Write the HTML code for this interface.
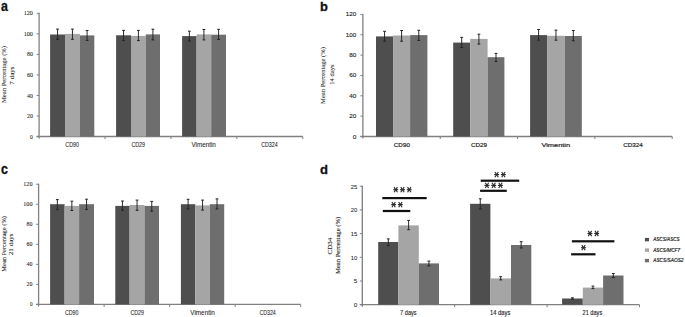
<!DOCTYPE html><html><head><meta charset="utf-8"><style>html,body{margin:0;padding:0;background:#fff;}svg{display:block;}</style></head><body><svg width="685" height="317" viewBox="0 0 685 317">
<rect width="685" height="317" fill="#fff"/>
<text x="1.00" y="10.80" font-family="'Liberation Sans', sans-serif" font-size="14.0" font-weight="bold" font-style="normal" fill="#111" text-anchor="start" textLength="6.90" lengthAdjust="spacingAndGlyphs" stroke="#111" stroke-width="0.3">a</text>
<line x1="39.10" y1="12.80" x2="39.10" y2="138.50" stroke="#808080" stroke-width="1.3"/>
<line x1="36.60" y1="136.50" x2="302.80" y2="136.50" stroke="#808080" stroke-width="1.3"/>
<line x1="36.60" y1="13.30" x2="39.10" y2="13.30" stroke="#808080" stroke-width="1.0"/>
<text x="32.90" y="15.40" font-family="'Liberation Serif', serif" font-size="7.0" font-weight="normal" font-style="normal" fill="#222" text-anchor="end" textLength="9.20" lengthAdjust="spacingAndGlyphs" stroke="#222" stroke-width="0.08">120</text>
<line x1="36.60" y1="33.83" x2="39.10" y2="33.83" stroke="#808080" stroke-width="1.0"/>
<text x="32.90" y="35.93" font-family="'Liberation Serif', serif" font-size="7.0" font-weight="normal" font-style="normal" fill="#222" text-anchor="end" textLength="9.20" lengthAdjust="spacingAndGlyphs" stroke="#222" stroke-width="0.08">100</text>
<line x1="36.60" y1="54.37" x2="39.10" y2="54.37" stroke="#808080" stroke-width="1.0"/>
<text x="32.90" y="56.47" font-family="'Liberation Serif', serif" font-size="7.0" font-weight="normal" font-style="normal" fill="#222" text-anchor="end" textLength="5.90" lengthAdjust="spacingAndGlyphs" stroke="#222" stroke-width="0.08">80</text>
<line x1="36.60" y1="74.90" x2="39.10" y2="74.90" stroke="#808080" stroke-width="1.0"/>
<text x="32.90" y="77.00" font-family="'Liberation Serif', serif" font-size="7.0" font-weight="normal" font-style="normal" fill="#222" text-anchor="end" textLength="5.90" lengthAdjust="spacingAndGlyphs" stroke="#222" stroke-width="0.08">60</text>
<line x1="36.60" y1="95.43" x2="39.10" y2="95.43" stroke="#808080" stroke-width="1.0"/>
<text x="32.90" y="97.53" font-family="'Liberation Serif', serif" font-size="7.0" font-weight="normal" font-style="normal" fill="#222" text-anchor="end" textLength="5.90" lengthAdjust="spacingAndGlyphs" stroke="#222" stroke-width="0.08">40</text>
<line x1="36.60" y1="115.97" x2="39.10" y2="115.97" stroke="#808080" stroke-width="1.0"/>
<text x="32.90" y="118.07" font-family="'Liberation Serif', serif" font-size="7.0" font-weight="normal" font-style="normal" fill="#222" text-anchor="end" textLength="5.90" lengthAdjust="spacingAndGlyphs" stroke="#222" stroke-width="0.08">20</text>
<line x1="36.60" y1="136.50" x2="39.10" y2="136.50" stroke="#808080" stroke-width="1.0"/>
<text x="32.90" y="138.60" font-family="'Liberation Serif', serif" font-size="7.0" font-weight="normal" font-style="normal" fill="#222" text-anchor="end" textLength="2.80" lengthAdjust="spacingAndGlyphs" stroke="#222" stroke-width="0.08">0</text>
<line x1="105.03" y1="136.50" x2="105.03" y2="139.00" stroke="#808080" stroke-width="1.0"/>
<line x1="170.95" y1="136.50" x2="170.95" y2="139.00" stroke="#808080" stroke-width="1.0"/>
<line x1="236.87" y1="136.50" x2="236.87" y2="139.00" stroke="#808080" stroke-width="1.0"/>
<line x1="302.80" y1="136.50" x2="302.80" y2="139.00" stroke="#808080" stroke-width="1.0"/>
<rect x="50.10" y="34.50" width="14.90" height="102.00" fill="#4e4e4e"/>
<rect x="65.00" y="33.90" width="14.90" height="102.60" fill="#a5a5a5"/>
<rect x="79.90" y="35.40" width="14.40" height="101.10" fill="#6e6e6e"/>
<line x1="57.55" y1="29.10" x2="57.55" y2="39.30" stroke="#222222" stroke-width="0.95"/>
<line x1="56.15" y1="29.10" x2="58.95" y2="29.10" stroke="#222222" stroke-width="1.0"/>
<line x1="56.15" y1="39.30" x2="58.95" y2="39.30" stroke="#222222" stroke-width="1.0"/>
<line x1="72.45" y1="29.10" x2="72.45" y2="39.30" stroke="#222222" stroke-width="0.95"/>
<line x1="71.05" y1="29.10" x2="73.85" y2="29.10" stroke="#222222" stroke-width="1.0"/>
<line x1="71.05" y1="39.30" x2="73.85" y2="39.30" stroke="#222222" stroke-width="1.0"/>
<line x1="87.10" y1="30.50" x2="87.10" y2="40.40" stroke="#222222" stroke-width="0.95"/>
<line x1="85.70" y1="30.50" x2="88.50" y2="30.50" stroke="#222222" stroke-width="1.0"/>
<line x1="85.70" y1="40.40" x2="88.50" y2="40.40" stroke="#222222" stroke-width="1.0"/>
<rect x="116.10" y="35.30" width="14.90" height="101.20" fill="#4e4e4e"/>
<rect x="131.00" y="35.90" width="14.80" height="100.60" fill="#a5a5a5"/>
<rect x="145.80" y="34.40" width="14.20" height="102.10" fill="#6e6e6e"/>
<line x1="123.55" y1="30.40" x2="123.55" y2="40.60" stroke="#222222" stroke-width="0.95"/>
<line x1="122.15" y1="30.40" x2="124.95" y2="30.40" stroke="#222222" stroke-width="1.0"/>
<line x1="122.15" y1="40.60" x2="124.95" y2="40.60" stroke="#222222" stroke-width="1.0"/>
<line x1="138.40" y1="30.40" x2="138.40" y2="40.60" stroke="#222222" stroke-width="0.95"/>
<line x1="137.00" y1="30.40" x2="139.80" y2="30.40" stroke="#222222" stroke-width="1.0"/>
<line x1="137.00" y1="40.60" x2="139.80" y2="40.60" stroke="#222222" stroke-width="1.0"/>
<line x1="152.90" y1="29.20" x2="152.90" y2="39.90" stroke="#222222" stroke-width="0.95"/>
<line x1="151.50" y1="29.20" x2="154.30" y2="29.20" stroke="#222222" stroke-width="1.0"/>
<line x1="151.50" y1="39.90" x2="154.30" y2="39.90" stroke="#222222" stroke-width="1.0"/>
<rect x="182.10" y="36.10" width="14.50" height="100.40" fill="#4e4e4e"/>
<rect x="196.60" y="34.40" width="14.60" height="102.10" fill="#a5a5a5"/>
<rect x="211.20" y="34.70" width="14.80" height="101.80" fill="#6e6e6e"/>
<line x1="189.35" y1="31.20" x2="189.35" y2="41.00" stroke="#222222" stroke-width="0.95"/>
<line x1="187.95" y1="31.20" x2="190.75" y2="31.20" stroke="#222222" stroke-width="1.0"/>
<line x1="187.95" y1="41.00" x2="190.75" y2="41.00" stroke="#222222" stroke-width="1.0"/>
<line x1="203.90" y1="29.50" x2="203.90" y2="39.90" stroke="#222222" stroke-width="0.95"/>
<line x1="202.50" y1="29.50" x2="205.30" y2="29.50" stroke="#222222" stroke-width="1.0"/>
<line x1="202.50" y1="39.90" x2="205.30" y2="39.90" stroke="#222222" stroke-width="1.0"/>
<line x1="218.60" y1="29.30" x2="218.60" y2="39.40" stroke="#222222" stroke-width="0.95"/>
<line x1="217.20" y1="29.30" x2="220.00" y2="29.30" stroke="#222222" stroke-width="1.0"/>
<line x1="217.20" y1="39.40" x2="220.00" y2="39.40" stroke="#222222" stroke-width="1.0"/>
<text x="72.10" y="146.60" font-family="'Liberation Sans', sans-serif" font-size="6.3" font-weight="normal" font-style="normal" fill="#222" text-anchor="middle" textLength="13.60" lengthAdjust="spacingAndGlyphs" stroke="#222" stroke-width="0.06">CD90</text>
<text x="138.20" y="146.60" font-family="'Liberation Sans', sans-serif" font-size="6.3" font-weight="normal" font-style="normal" fill="#222" text-anchor="middle" textLength="13.60" lengthAdjust="spacingAndGlyphs" stroke="#222" stroke-width="0.06">CD29</text>
<text x="203.65" y="146.60" font-family="'Liberation Sans', sans-serif" font-size="6.3" font-weight="normal" font-style="normal" fill="#222" text-anchor="middle" textLength="24.50" lengthAdjust="spacingAndGlyphs" stroke="#222" stroke-width="0.06">Vimentin</text>
<text x="269.45" y="146.60" font-family="'Liberation Sans', sans-serif" font-size="6.3" font-weight="normal" font-style="normal" fill="#222" text-anchor="middle" textLength="16.50" lengthAdjust="spacingAndGlyphs" stroke="#222" stroke-width="0.06">CD324</text>
<text x="6.00" y="74.50" font-family="'Liberation Serif', serif" font-size="6.9" font-weight="normal" font-style="normal" fill="#222" text-anchor="middle" textLength="57.00" lengthAdjust="spacingAndGlyphs" stroke="#222" stroke-width="0.07" transform="rotate(-90 6.00 74.50)">Mean Percentage (%)</text>
<text x="13.50" y="75.50" font-family="'Liberation Serif', serif" font-size="6.9" font-weight="normal" font-style="normal" fill="#222" text-anchor="middle" textLength="18.30" lengthAdjust="spacingAndGlyphs" stroke="#222" stroke-width="0.07" transform="rotate(-90 13.50 75.50)">7 days</text>
<text x="319.90" y="11.20" font-family="'Liberation Sans', sans-serif" font-size="13.2" font-weight="bold" font-style="normal" fill="#111" text-anchor="start" textLength="7.90" lengthAdjust="spacingAndGlyphs" stroke="#111" stroke-width="0.3">b</text>
<line x1="362.90" y1="13.90" x2="362.90" y2="138.50" stroke="#808080" stroke-width="1.3"/>
<line x1="360.40" y1="136.50" x2="672.20" y2="136.50" stroke="#808080" stroke-width="1.3"/>
<line x1="360.40" y1="14.40" x2="362.90" y2="14.40" stroke="#808080" stroke-width="1.0"/>
<text x="356.30" y="16.40" font-family="'Liberation Sans', sans-serif" font-size="6.0" font-weight="normal" font-style="normal" fill="#222" text-anchor="end" textLength="10.50" lengthAdjust="spacingAndGlyphs" stroke="#222" stroke-width="0.12">120</text>
<line x1="360.40" y1="34.75" x2="362.90" y2="34.75" stroke="#808080" stroke-width="1.0"/>
<text x="356.30" y="36.75" font-family="'Liberation Sans', sans-serif" font-size="6.0" font-weight="normal" font-style="normal" fill="#222" text-anchor="end" textLength="10.50" lengthAdjust="spacingAndGlyphs" stroke="#222" stroke-width="0.12">100</text>
<line x1="360.40" y1="55.10" x2="362.90" y2="55.10" stroke="#808080" stroke-width="1.0"/>
<text x="356.30" y="57.10" font-family="'Liberation Sans', sans-serif" font-size="6.0" font-weight="normal" font-style="normal" fill="#222" text-anchor="end" textLength="7.10" lengthAdjust="spacingAndGlyphs" stroke="#222" stroke-width="0.12">80</text>
<line x1="360.40" y1="75.45" x2="362.90" y2="75.45" stroke="#808080" stroke-width="1.0"/>
<text x="356.30" y="77.45" font-family="'Liberation Sans', sans-serif" font-size="6.0" font-weight="normal" font-style="normal" fill="#222" text-anchor="end" textLength="7.10" lengthAdjust="spacingAndGlyphs" stroke="#222" stroke-width="0.12">60</text>
<line x1="360.40" y1="95.80" x2="362.90" y2="95.80" stroke="#808080" stroke-width="1.0"/>
<text x="356.30" y="97.80" font-family="'Liberation Sans', sans-serif" font-size="6.0" font-weight="normal" font-style="normal" fill="#222" text-anchor="end" textLength="7.10" lengthAdjust="spacingAndGlyphs" stroke="#222" stroke-width="0.12">40</text>
<line x1="360.40" y1="116.15" x2="362.90" y2="116.15" stroke="#808080" stroke-width="1.0"/>
<text x="356.30" y="118.15" font-family="'Liberation Sans', sans-serif" font-size="6.0" font-weight="normal" font-style="normal" fill="#222" text-anchor="end" textLength="7.10" lengthAdjust="spacingAndGlyphs" stroke="#222" stroke-width="0.12">20</text>
<line x1="360.40" y1="136.50" x2="362.90" y2="136.50" stroke="#808080" stroke-width="1.0"/>
<text x="356.30" y="138.50" font-family="'Liberation Sans', sans-serif" font-size="6.0" font-weight="normal" font-style="normal" fill="#222" text-anchor="end" textLength="3.60" lengthAdjust="spacingAndGlyphs" stroke="#222" stroke-width="0.12">0</text>
<line x1="440.23" y1="136.50" x2="440.23" y2="139.00" stroke="#808080" stroke-width="1.0"/>
<line x1="517.55" y1="136.50" x2="517.55" y2="139.00" stroke="#808080" stroke-width="1.0"/>
<line x1="594.88" y1="136.50" x2="594.88" y2="139.00" stroke="#808080" stroke-width="1.0"/>
<line x1="672.20" y1="136.50" x2="672.20" y2="139.00" stroke="#808080" stroke-width="1.0"/>
<rect x="376.00" y="36.40" width="17.10" height="100.10" fill="#4e4e4e"/>
<rect x="393.10" y="35.50" width="17.00" height="101.00" fill="#a5a5a5"/>
<rect x="410.10" y="35.10" width="17.30" height="101.40" fill="#6e6e6e"/>
<line x1="384.55" y1="31.30" x2="384.55" y2="41.20" stroke="#222222" stroke-width="0.95"/>
<line x1="383.15" y1="31.30" x2="385.95" y2="31.30" stroke="#222222" stroke-width="1.0"/>
<line x1="383.15" y1="41.20" x2="385.95" y2="41.20" stroke="#222222" stroke-width="1.0"/>
<line x1="401.60" y1="30.50" x2="401.60" y2="41.20" stroke="#222222" stroke-width="0.95"/>
<line x1="400.20" y1="30.50" x2="403.00" y2="30.50" stroke="#222222" stroke-width="1.0"/>
<line x1="400.20" y1="41.20" x2="403.00" y2="41.20" stroke="#222222" stroke-width="1.0"/>
<line x1="418.75" y1="30.30" x2="418.75" y2="40.40" stroke="#222222" stroke-width="0.95"/>
<line x1="417.35" y1="30.30" x2="420.15" y2="30.30" stroke="#222222" stroke-width="1.0"/>
<line x1="417.35" y1="40.40" x2="420.15" y2="40.40" stroke="#222222" stroke-width="1.0"/>
<rect x="453.20" y="42.60" width="17.00" height="93.90" fill="#4e4e4e"/>
<rect x="470.20" y="38.90" width="17.40" height="97.60" fill="#a5a5a5"/>
<rect x="487.60" y="57.20" width="16.80" height="79.30" fill="#6e6e6e"/>
<line x1="461.70" y1="37.40" x2="461.70" y2="47.60" stroke="#222222" stroke-width="0.95"/>
<line x1="460.30" y1="37.40" x2="463.10" y2="37.40" stroke="#222222" stroke-width="1.0"/>
<line x1="460.30" y1="47.60" x2="463.10" y2="47.60" stroke="#222222" stroke-width="1.0"/>
<line x1="478.90" y1="34.20" x2="478.90" y2="44.10" stroke="#222222" stroke-width="0.95"/>
<line x1="477.50" y1="34.20" x2="480.30" y2="34.20" stroke="#222222" stroke-width="1.0"/>
<line x1="477.50" y1="44.10" x2="480.30" y2="44.10" stroke="#222222" stroke-width="1.0"/>
<line x1="496.00" y1="53.40" x2="496.00" y2="61.50" stroke="#222222" stroke-width="0.95"/>
<line x1="494.60" y1="53.40" x2="497.40" y2="53.40" stroke="#222222" stroke-width="1.0"/>
<line x1="494.60" y1="61.50" x2="497.40" y2="61.50" stroke="#222222" stroke-width="1.0"/>
<rect x="530.10" y="35.10" width="17.00" height="101.40" fill="#4e4e4e"/>
<rect x="547.10" y="35.80" width="17.70" height="100.70" fill="#a5a5a5"/>
<rect x="564.80" y="36.00" width="17.00" height="100.50" fill="#6e6e6e"/>
<line x1="538.60" y1="29.50" x2="538.60" y2="40.20" stroke="#222222" stroke-width="0.95"/>
<line x1="537.20" y1="29.50" x2="540.00" y2="29.50" stroke="#222222" stroke-width="1.0"/>
<line x1="537.20" y1="40.20" x2="540.00" y2="40.20" stroke="#222222" stroke-width="1.0"/>
<line x1="555.95" y1="30.10" x2="555.95" y2="40.20" stroke="#222222" stroke-width="0.95"/>
<line x1="554.55" y1="30.10" x2="557.35" y2="30.10" stroke="#222222" stroke-width="1.0"/>
<line x1="554.55" y1="40.20" x2="557.35" y2="40.20" stroke="#222222" stroke-width="1.0"/>
<line x1="573.30" y1="30.50" x2="573.30" y2="40.80" stroke="#222222" stroke-width="0.95"/>
<line x1="571.90" y1="30.50" x2="574.70" y2="30.50" stroke="#222222" stroke-width="1.0"/>
<line x1="571.90" y1="40.80" x2="574.70" y2="40.80" stroke="#222222" stroke-width="1.0"/>
<text x="401.85" y="146.80" font-family="'Liberation Sans', sans-serif" font-size="5.6" font-weight="normal" font-style="normal" fill="#222" text-anchor="middle" textLength="16.10" lengthAdjust="spacingAndGlyphs" stroke="#222" stroke-width="0.18">CD90</text>
<text x="478.95" y="146.80" font-family="'Liberation Sans', sans-serif" font-size="5.6" font-weight="normal" font-style="normal" fill="#222" text-anchor="middle" textLength="16.10" lengthAdjust="spacingAndGlyphs" stroke="#222" stroke-width="0.18">CD29</text>
<text x="555.75" y="146.80" font-family="'Liberation Sans', sans-serif" font-size="5.6" font-weight="normal" font-style="normal" fill="#222" text-anchor="middle" textLength="28.70" lengthAdjust="spacingAndGlyphs" stroke="#222" stroke-width="0.18">Vimentin</text>
<text x="632.95" y="146.80" font-family="'Liberation Sans', sans-serif" font-size="5.6" font-weight="normal" font-style="normal" fill="#222" text-anchor="middle" textLength="19.50" lengthAdjust="spacingAndGlyphs" stroke="#222" stroke-width="0.18">CD324</text>
<text x="324.90" y="75.50" font-family="'Liberation Serif', serif" font-size="6.9" font-weight="normal" font-style="normal" fill="#222" text-anchor="middle" textLength="56.80" lengthAdjust="spacingAndGlyphs" stroke="#222" stroke-width="0.07" transform="rotate(-90 324.90 75.50)">Mean Percentage (%)</text>
<text x="333.60" y="74.60" font-family="'Liberation Serif', serif" font-size="6.9" font-weight="normal" font-style="normal" fill="#222" text-anchor="middle" textLength="20.20" lengthAdjust="spacingAndGlyphs" stroke="#222" stroke-width="0.07" transform="rotate(-90 333.60 74.60)">14 days</text>
<text x="1.00" y="173.70" font-family="'Liberation Sans', sans-serif" font-size="14.0" font-weight="bold" font-style="normal" fill="#111" text-anchor="start" textLength="6.90" lengthAdjust="spacingAndGlyphs" stroke="#111" stroke-width="0.3">c</text>
<line x1="38.60" y1="183.70" x2="38.60" y2="306.40" stroke="#808080" stroke-width="1.3"/>
<line x1="36.10" y1="304.40" x2="300.70" y2="304.40" stroke="#808080" stroke-width="1.3"/>
<line x1="36.10" y1="184.20" x2="38.60" y2="184.20" stroke="#808080" stroke-width="1.0"/>
<text x="32.50" y="186.10" font-family="'Liberation Serif', serif" font-size="7.0" font-weight="normal" font-style="normal" fill="#222" text-anchor="end" textLength="9.20" lengthAdjust="spacingAndGlyphs" stroke="#222" stroke-width="0.08">120</text>
<line x1="36.10" y1="204.23" x2="38.60" y2="204.23" stroke="#808080" stroke-width="1.0"/>
<text x="32.50" y="206.13" font-family="'Liberation Serif', serif" font-size="7.0" font-weight="normal" font-style="normal" fill="#222" text-anchor="end" textLength="9.20" lengthAdjust="spacingAndGlyphs" stroke="#222" stroke-width="0.08">100</text>
<line x1="36.10" y1="224.27" x2="38.60" y2="224.27" stroke="#808080" stroke-width="1.0"/>
<text x="32.50" y="226.17" font-family="'Liberation Serif', serif" font-size="7.0" font-weight="normal" font-style="normal" fill="#222" text-anchor="end" textLength="5.90" lengthAdjust="spacingAndGlyphs" stroke="#222" stroke-width="0.08">80</text>
<line x1="36.10" y1="244.30" x2="38.60" y2="244.30" stroke="#808080" stroke-width="1.0"/>
<text x="32.50" y="246.20" font-family="'Liberation Serif', serif" font-size="7.0" font-weight="normal" font-style="normal" fill="#222" text-anchor="end" textLength="5.90" lengthAdjust="spacingAndGlyphs" stroke="#222" stroke-width="0.08">60</text>
<line x1="36.10" y1="264.33" x2="38.60" y2="264.33" stroke="#808080" stroke-width="1.0"/>
<text x="32.50" y="266.23" font-family="'Liberation Serif', serif" font-size="7.0" font-weight="normal" font-style="normal" fill="#222" text-anchor="end" textLength="5.90" lengthAdjust="spacingAndGlyphs" stroke="#222" stroke-width="0.08">40</text>
<line x1="36.10" y1="284.37" x2="38.60" y2="284.37" stroke="#808080" stroke-width="1.0"/>
<text x="32.50" y="286.27" font-family="'Liberation Serif', serif" font-size="7.0" font-weight="normal" font-style="normal" fill="#222" text-anchor="end" textLength="5.90" lengthAdjust="spacingAndGlyphs" stroke="#222" stroke-width="0.08">20</text>
<line x1="36.10" y1="304.40" x2="38.60" y2="304.40" stroke="#808080" stroke-width="1.0"/>
<text x="32.50" y="306.30" font-family="'Liberation Serif', serif" font-size="7.0" font-weight="normal" font-style="normal" fill="#222" text-anchor="end" textLength="2.60" lengthAdjust="spacingAndGlyphs" stroke="#222" stroke-width="0.08">0</text>
<line x1="104.12" y1="304.40" x2="104.12" y2="306.90" stroke="#808080" stroke-width="1.0"/>
<line x1="169.65" y1="304.40" x2="169.65" y2="306.90" stroke="#808080" stroke-width="1.0"/>
<line x1="235.17" y1="304.40" x2="235.17" y2="306.90" stroke="#808080" stroke-width="1.0"/>
<line x1="300.70" y1="304.40" x2="300.70" y2="306.90" stroke="#808080" stroke-width="1.0"/>
<rect x="50.10" y="204.20" width="14.50" height="100.20" fill="#4e4e4e"/>
<rect x="64.60" y="205.90" width="14.50" height="98.50" fill="#a5a5a5"/>
<rect x="79.10" y="204.20" width="14.90" height="100.20" fill="#6e6e6e"/>
<line x1="57.35" y1="199.60" x2="57.35" y2="209.70" stroke="#222222" stroke-width="0.95"/>
<line x1="55.95" y1="199.60" x2="58.75" y2="199.60" stroke="#222222" stroke-width="1.0"/>
<line x1="55.95" y1="209.70" x2="58.75" y2="209.70" stroke="#222222" stroke-width="1.0"/>
<line x1="71.85" y1="201.20" x2="71.85" y2="210.50" stroke="#222222" stroke-width="0.95"/>
<line x1="70.45" y1="201.20" x2="73.25" y2="201.20" stroke="#222222" stroke-width="1.0"/>
<line x1="70.45" y1="210.50" x2="73.25" y2="210.50" stroke="#222222" stroke-width="1.0"/>
<line x1="86.55" y1="199.20" x2="86.55" y2="209.40" stroke="#222222" stroke-width="0.95"/>
<line x1="85.15" y1="199.20" x2="87.95" y2="199.20" stroke="#222222" stroke-width="1.0"/>
<line x1="85.15" y1="209.40" x2="87.95" y2="209.40" stroke="#222222" stroke-width="1.0"/>
<rect x="115.30" y="205.90" width="14.30" height="98.50" fill="#4e4e4e"/>
<rect x="129.60" y="205.00" width="14.90" height="99.40" fill="#a5a5a5"/>
<rect x="144.50" y="205.90" width="14.50" height="98.50" fill="#6e6e6e"/>
<line x1="122.45" y1="201.00" x2="122.45" y2="210.30" stroke="#222222" stroke-width="0.95"/>
<line x1="121.05" y1="201.00" x2="123.85" y2="201.00" stroke="#222222" stroke-width="1.0"/>
<line x1="121.05" y1="210.30" x2="123.85" y2="210.30" stroke="#222222" stroke-width="1.0"/>
<line x1="137.05" y1="200.10" x2="137.05" y2="210.30" stroke="#222222" stroke-width="0.95"/>
<line x1="135.65" y1="200.10" x2="138.45" y2="200.10" stroke="#222222" stroke-width="1.0"/>
<line x1="135.65" y1="210.30" x2="138.45" y2="210.30" stroke="#222222" stroke-width="1.0"/>
<line x1="151.75" y1="201.40" x2="151.75" y2="211.20" stroke="#222222" stroke-width="0.95"/>
<line x1="150.35" y1="201.40" x2="153.15" y2="201.40" stroke="#222222" stroke-width="1.0"/>
<line x1="150.35" y1="211.20" x2="153.15" y2="211.20" stroke="#222222" stroke-width="1.0"/>
<rect x="180.90" y="204.20" width="14.40" height="100.20" fill="#4e4e4e"/>
<rect x="195.30" y="205.40" width="14.50" height="99.00" fill="#a5a5a5"/>
<rect x="209.80" y="204.20" width="14.40" height="100.20" fill="#6e6e6e"/>
<line x1="188.10" y1="199.30" x2="188.10" y2="208.90" stroke="#222222" stroke-width="0.95"/>
<line x1="186.70" y1="199.30" x2="189.50" y2="199.30" stroke="#222222" stroke-width="1.0"/>
<line x1="186.70" y1="208.90" x2="189.50" y2="208.90" stroke="#222222" stroke-width="1.0"/>
<line x1="202.55" y1="200.10" x2="202.55" y2="210.10" stroke="#222222" stroke-width="0.95"/>
<line x1="201.15" y1="200.10" x2="203.95" y2="200.10" stroke="#222222" stroke-width="1.0"/>
<line x1="201.15" y1="210.10" x2="203.95" y2="210.10" stroke="#222222" stroke-width="1.0"/>
<line x1="217.00" y1="198.90" x2="217.00" y2="208.90" stroke="#222222" stroke-width="0.95"/>
<line x1="215.60" y1="198.90" x2="218.40" y2="198.90" stroke="#222222" stroke-width="1.0"/>
<line x1="215.60" y1="208.90" x2="218.40" y2="208.90" stroke="#222222" stroke-width="1.0"/>
<text x="71.70" y="315.10" font-family="'Liberation Sans', sans-serif" font-size="6.3" font-weight="normal" font-style="normal" fill="#222" text-anchor="middle" textLength="13.60" lengthAdjust="spacingAndGlyphs" stroke="#222" stroke-width="0.06">CD90</text>
<text x="137.20" y="315.10" font-family="'Liberation Sans', sans-serif" font-size="6.3" font-weight="normal" font-style="normal" fill="#222" text-anchor="middle" textLength="13.60" lengthAdjust="spacingAndGlyphs" stroke="#222" stroke-width="0.06">CD29</text>
<text x="202.60" y="315.10" font-family="'Liberation Sans', sans-serif" font-size="6.3" font-weight="normal" font-style="normal" fill="#222" text-anchor="middle" textLength="24.50" lengthAdjust="spacingAndGlyphs" stroke="#222" stroke-width="0.06">Vimentin</text>
<text x="267.60" y="315.10" font-family="'Liberation Sans', sans-serif" font-size="6.3" font-weight="normal" font-style="normal" fill="#222" text-anchor="middle" textLength="16.40" lengthAdjust="spacingAndGlyphs" stroke="#222" stroke-width="0.06">CD324</text>
<text x="6.00" y="243.90" font-family="'Liberation Serif', serif" font-size="6.9" font-weight="normal" font-style="normal" fill="#222" text-anchor="middle" textLength="55.50" lengthAdjust="spacingAndGlyphs" stroke="#222" stroke-width="0.07" transform="rotate(-90 6.00 243.90)">Mean Percentage (%)</text>
<text x="13.30" y="244.30" font-family="'Liberation Serif', serif" font-size="6.9" font-weight="normal" font-style="normal" fill="#222" text-anchor="middle" textLength="21.80" lengthAdjust="spacingAndGlyphs" stroke="#222" stroke-width="0.07" transform="rotate(-90 13.30 244.30)">21 days</text>
<text x="319.90" y="173.50" font-family="'Liberation Sans', sans-serif" font-size="13.2" font-weight="bold" font-style="normal" fill="#111" text-anchor="start" textLength="8.00" lengthAdjust="spacingAndGlyphs" stroke="#111" stroke-width="0.3">d</text>
<line x1="362.30" y1="185.70" x2="362.30" y2="306.70" stroke="#808080" stroke-width="1.3"/>
<line x1="359.80" y1="304.70" x2="639.50" y2="304.70" stroke="#808080" stroke-width="1.3"/>
<line x1="359.80" y1="186.20" x2="362.30" y2="186.20" stroke="#808080" stroke-width="1.0"/>
<text x="357.30" y="188.50" font-family="'Liberation Sans', sans-serif" font-size="5.6" font-weight="normal" font-style="normal" fill="#222" text-anchor="end" textLength="6.60" lengthAdjust="spacingAndGlyphs" stroke="#222" stroke-width="0.05">25</text>
<line x1="359.80" y1="209.90" x2="362.30" y2="209.90" stroke="#808080" stroke-width="1.0"/>
<text x="357.30" y="212.20" font-family="'Liberation Sans', sans-serif" font-size="5.6" font-weight="normal" font-style="normal" fill="#222" text-anchor="end" textLength="6.60" lengthAdjust="spacingAndGlyphs" stroke="#222" stroke-width="0.05">20</text>
<line x1="359.80" y1="233.60" x2="362.30" y2="233.60" stroke="#808080" stroke-width="1.0"/>
<text x="357.30" y="235.90" font-family="'Liberation Sans', sans-serif" font-size="5.6" font-weight="normal" font-style="normal" fill="#222" text-anchor="end" textLength="6.60" lengthAdjust="spacingAndGlyphs" stroke="#222" stroke-width="0.05">15</text>
<line x1="359.80" y1="257.30" x2="362.30" y2="257.30" stroke="#808080" stroke-width="1.0"/>
<text x="357.30" y="259.60" font-family="'Liberation Sans', sans-serif" font-size="5.6" font-weight="normal" font-style="normal" fill="#222" text-anchor="end" textLength="6.60" lengthAdjust="spacingAndGlyphs" stroke="#222" stroke-width="0.05">10</text>
<line x1="359.80" y1="281.00" x2="362.30" y2="281.00" stroke="#808080" stroke-width="1.0"/>
<text x="357.30" y="283.30" font-family="'Liberation Sans', sans-serif" font-size="5.6" font-weight="normal" font-style="normal" fill="#222" text-anchor="end" textLength="3.60" lengthAdjust="spacingAndGlyphs" stroke="#222" stroke-width="0.05">5</text>
<line x1="359.80" y1="304.70" x2="362.30" y2="304.70" stroke="#808080" stroke-width="1.0"/>
<text x="357.30" y="307.00" font-family="'Liberation Sans', sans-serif" font-size="5.6" font-weight="normal" font-style="normal" fill="#222" text-anchor="end" textLength="3.60" lengthAdjust="spacingAndGlyphs" stroke="#222" stroke-width="0.05">0</text>
<line x1="454.70" y1="304.70" x2="454.70" y2="307.20" stroke="#808080" stroke-width="1.0"/>
<line x1="547.10" y1="304.70" x2="547.10" y2="307.20" stroke="#808080" stroke-width="1.0"/>
<line x1="639.50" y1="304.70" x2="639.50" y2="307.20" stroke="#808080" stroke-width="1.0"/>
<rect x="378.20" y="242.00" width="20.20" height="62.70" fill="#4e4e4e"/>
<rect x="398.40" y="225.40" width="20.40" height="79.30" fill="#a5a5a5"/>
<rect x="418.80" y="263.40" width="20.20" height="41.30" fill="#6e6e6e"/>
<line x1="388.30" y1="238.90" x2="388.30" y2="245.70" stroke="#222222" stroke-width="0.95"/>
<line x1="386.90" y1="238.90" x2="389.70" y2="238.90" stroke="#222222" stroke-width="1.0"/>
<line x1="386.90" y1="245.70" x2="389.70" y2="245.70" stroke="#222222" stroke-width="1.0"/>
<line x1="408.60" y1="220.40" x2="408.60" y2="229.70" stroke="#222222" stroke-width="0.95"/>
<line x1="407.20" y1="220.40" x2="410.00" y2="220.40" stroke="#222222" stroke-width="1.0"/>
<line x1="407.20" y1="229.70" x2="410.00" y2="229.70" stroke="#222222" stroke-width="1.0"/>
<line x1="428.90" y1="261.10" x2="428.90" y2="265.90" stroke="#222222" stroke-width="0.95"/>
<line x1="427.50" y1="261.10" x2="430.30" y2="261.10" stroke="#222222" stroke-width="1.0"/>
<line x1="427.50" y1="265.90" x2="430.30" y2="265.90" stroke="#222222" stroke-width="1.0"/>
<rect x="470.10" y="203.80" width="20.30" height="100.90" fill="#4e4e4e"/>
<rect x="490.40" y="278.40" width="20.60" height="26.30" fill="#a5a5a5"/>
<rect x="511.00" y="245.00" width="20.30" height="59.70" fill="#6e6e6e"/>
<line x1="480.25" y1="198.80" x2="480.25" y2="208.90" stroke="#222222" stroke-width="0.95"/>
<line x1="478.85" y1="198.80" x2="481.65" y2="198.80" stroke="#222222" stroke-width="1.0"/>
<line x1="478.85" y1="208.90" x2="481.65" y2="208.90" stroke="#222222" stroke-width="1.0"/>
<line x1="500.70" y1="276.70" x2="500.70" y2="279.90" stroke="#222222" stroke-width="0.95"/>
<line x1="499.30" y1="276.70" x2="502.10" y2="276.70" stroke="#222222" stroke-width="1.0"/>
<line x1="499.30" y1="279.90" x2="502.10" y2="279.90" stroke="#222222" stroke-width="1.0"/>
<line x1="521.15" y1="241.70" x2="521.15" y2="248.00" stroke="#222222" stroke-width="0.95"/>
<line x1="519.75" y1="241.70" x2="522.55" y2="241.70" stroke="#222222" stroke-width="1.0"/>
<line x1="519.75" y1="248.00" x2="522.55" y2="248.00" stroke="#222222" stroke-width="1.0"/>
<rect x="562.10" y="298.50" width="20.70" height="6.20" fill="#4e4e4e"/>
<rect x="582.80" y="287.60" width="20.30" height="17.10" fill="#a5a5a5"/>
<rect x="603.10" y="275.50" width="20.40" height="29.20" fill="#6e6e6e"/>
<line x1="572.45" y1="297.80" x2="572.45" y2="299.20" stroke="#222222" stroke-width="0.95"/>
<line x1="571.05" y1="297.80" x2="573.85" y2="297.80" stroke="#222222" stroke-width="1.0"/>
<line x1="571.05" y1="299.20" x2="573.85" y2="299.20" stroke="#222222" stroke-width="1.0"/>
<line x1="592.95" y1="286.10" x2="592.95" y2="288.60" stroke="#222222" stroke-width="0.95"/>
<line x1="591.55" y1="286.10" x2="594.35" y2="286.10" stroke="#222222" stroke-width="1.0"/>
<line x1="591.55" y1="288.60" x2="594.35" y2="288.60" stroke="#222222" stroke-width="1.0"/>
<line x1="613.30" y1="273.50" x2="613.30" y2="277.50" stroke="#222222" stroke-width="0.95"/>
<line x1="611.90" y1="273.50" x2="614.70" y2="273.50" stroke="#222222" stroke-width="1.0"/>
<line x1="611.90" y1="277.50" x2="614.70" y2="277.50" stroke="#222222" stroke-width="1.0"/>
<text x="408.35" y="314.80" font-family="'Liberation Sans', sans-serif" font-size="6.6" font-weight="normal" font-style="normal" fill="#222" text-anchor="middle" textLength="16.50" lengthAdjust="spacingAndGlyphs" stroke="#222" stroke-width="0.12">7 days</text>
<text x="500.20" y="314.80" font-family="'Liberation Sans', sans-serif" font-size="6.6" font-weight="normal" font-style="normal" fill="#222" text-anchor="middle" textLength="20.20" lengthAdjust="spacingAndGlyphs" stroke="#222" stroke-width="0.12">14 days</text>
<text x="592.40" y="314.80" font-family="'Liberation Sans', sans-serif" font-size="6.6" font-weight="normal" font-style="normal" fill="#222" text-anchor="middle" textLength="19.60" lengthAdjust="spacingAndGlyphs" stroke="#222" stroke-width="0.12">21 days</text>
<text x="332.40" y="246.10" font-family="'Liberation Serif', serif" font-size="7.0" font-weight="normal" font-style="normal" fill="#222" text-anchor="middle" textLength="17.00" lengthAdjust="spacingAndGlyphs" stroke="#222" stroke-width="0.12" transform="rotate(-90 332.40 246.10)">CD34</text>
<text x="340.20" y="245.40" font-family="'Liberation Serif', serif" font-size="7.0" font-weight="normal" font-style="normal" fill="#222" text-anchor="middle" textLength="57.00" lengthAdjust="spacingAndGlyphs" stroke="#222" stroke-width="0.12" transform="rotate(-90 340.20 245.40)">Mean Percentage (%)</text>
<rect x="382.30" y="197.00" width="44.40" height="2.2" fill="#111"/>
<line x1="393.30" y1="189.70" x2="398.20" y2="189.70" stroke="#2a2a2a" stroke-width="1.15"/>
<line x1="394.06" y1="187.10" x2="397.44" y2="192.30" stroke="#2a2a2a" stroke-width="1.15"/>
<line x1="397.44" y1="187.10" x2="394.06" y2="192.30" stroke="#2a2a2a" stroke-width="1.15"/>
<line x1="400.05" y1="189.70" x2="404.95" y2="189.70" stroke="#2a2a2a" stroke-width="1.15"/>
<line x1="400.81" y1="187.10" x2="404.19" y2="192.30" stroke="#2a2a2a" stroke-width="1.15"/>
<line x1="404.19" y1="187.10" x2="400.81" y2="192.30" stroke="#2a2a2a" stroke-width="1.15"/>
<line x1="406.80" y1="189.70" x2="411.70" y2="189.70" stroke="#2a2a2a" stroke-width="1.15"/>
<line x1="407.56" y1="187.10" x2="410.94" y2="192.30" stroke="#2a2a2a" stroke-width="1.15"/>
<line x1="410.94" y1="187.10" x2="407.56" y2="192.30" stroke="#2a2a2a" stroke-width="1.15"/>
<rect x="382.80" y="209.90" width="27.50" height="2.2" fill="#111"/>
<line x1="391.18" y1="204.60" x2="396.07" y2="204.60" stroke="#2a2a2a" stroke-width="1.15"/>
<line x1="391.94" y1="202.00" x2="395.31" y2="207.20" stroke="#2a2a2a" stroke-width="1.15"/>
<line x1="395.31" y1="202.00" x2="391.94" y2="207.20" stroke="#2a2a2a" stroke-width="1.15"/>
<line x1="397.93" y1="204.60" x2="402.82" y2="204.60" stroke="#2a2a2a" stroke-width="1.15"/>
<line x1="398.69" y1="202.00" x2="402.06" y2="207.20" stroke="#2a2a2a" stroke-width="1.15"/>
<line x1="402.06" y1="202.00" x2="398.69" y2="207.20" stroke="#2a2a2a" stroke-width="1.15"/>
<rect x="480.70" y="179.60" width="38.50" height="2.2" fill="#111"/>
<line x1="494.18" y1="174.60" x2="499.07" y2="174.60" stroke="#2a2a2a" stroke-width="1.15"/>
<line x1="494.94" y1="172.00" x2="498.31" y2="177.20" stroke="#2a2a2a" stroke-width="1.15"/>
<line x1="498.31" y1="172.00" x2="494.94" y2="177.20" stroke="#2a2a2a" stroke-width="1.15"/>
<line x1="500.93" y1="174.60" x2="505.82" y2="174.60" stroke="#2a2a2a" stroke-width="1.15"/>
<line x1="501.69" y1="172.00" x2="505.06" y2="177.20" stroke="#2a2a2a" stroke-width="1.15"/>
<line x1="505.06" y1="172.00" x2="501.69" y2="177.20" stroke="#2a2a2a" stroke-width="1.15"/>
<rect x="480.10" y="189.70" width="26.70" height="2.2" fill="#111"/>
<line x1="484.50" y1="185.40" x2="489.40" y2="185.40" stroke="#2a2a2a" stroke-width="1.15"/>
<line x1="485.26" y1="182.80" x2="488.64" y2="188.00" stroke="#2a2a2a" stroke-width="1.15"/>
<line x1="488.64" y1="182.80" x2="485.26" y2="188.00" stroke="#2a2a2a" stroke-width="1.15"/>
<line x1="491.25" y1="185.40" x2="496.15" y2="185.40" stroke="#2a2a2a" stroke-width="1.15"/>
<line x1="492.01" y1="182.80" x2="495.39" y2="188.00" stroke="#2a2a2a" stroke-width="1.15"/>
<line x1="495.39" y1="182.80" x2="492.01" y2="188.00" stroke="#2a2a2a" stroke-width="1.15"/>
<line x1="498.00" y1="185.40" x2="502.90" y2="185.40" stroke="#2a2a2a" stroke-width="1.15"/>
<line x1="498.76" y1="182.80" x2="502.14" y2="188.00" stroke="#2a2a2a" stroke-width="1.15"/>
<line x1="502.14" y1="182.80" x2="498.76" y2="188.00" stroke="#2a2a2a" stroke-width="1.15"/>
<rect x="571.90" y="240.20" width="42.50" height="2.2" fill="#111"/>
<line x1="587.47" y1="233.50" x2="592.38" y2="233.50" stroke="#2a2a2a" stroke-width="1.15"/>
<line x1="588.24" y1="230.90" x2="591.61" y2="236.10" stroke="#2a2a2a" stroke-width="1.15"/>
<line x1="591.61" y1="230.90" x2="588.24" y2="236.10" stroke="#2a2a2a" stroke-width="1.15"/>
<line x1="594.22" y1="233.50" x2="599.12" y2="233.50" stroke="#2a2a2a" stroke-width="1.15"/>
<line x1="594.99" y1="230.90" x2="598.36" y2="236.10" stroke="#2a2a2a" stroke-width="1.15"/>
<line x1="598.36" y1="230.90" x2="594.99" y2="236.10" stroke="#2a2a2a" stroke-width="1.15"/>
<rect x="571.10" y="253.20" width="24.40" height="2.2" fill="#111"/>
<line x1="581.05" y1="247.70" x2="585.95" y2="247.70" stroke="#2a2a2a" stroke-width="1.15"/>
<line x1="581.81" y1="245.10" x2="585.19" y2="250.30" stroke="#2a2a2a" stroke-width="1.15"/>
<line x1="585.19" y1="245.10" x2="581.81" y2="250.30" stroke="#2a2a2a" stroke-width="1.15"/>
<rect x="644.9" y="237.90" width="4.1" height="3.4" fill="#4e4e4e"/>
<text x="653.20" y="241.35" font-family="'Liberation Sans', sans-serif" font-size="5.2" font-weight="normal" font-style="italic" fill="#222" text-anchor="start" textLength="26.50" lengthAdjust="spacingAndGlyphs" stroke="#222" stroke-width="0.18">ASCS/ASCS</text>
<rect x="644.9" y="248.40" width="4.1" height="3.4" fill="#a5a5a5"/>
<text x="653.20" y="251.85" font-family="'Liberation Sans', sans-serif" font-size="5.2" font-weight="normal" font-style="italic" fill="#222" text-anchor="start" textLength="26.90" lengthAdjust="spacingAndGlyphs" stroke="#222" stroke-width="0.18">ASCS/MCF7</text>
<rect x="644.9" y="258.90" width="4.1" height="3.4" fill="#6e6e6e"/>
<text x="653.20" y="262.35" font-family="'Liberation Sans', sans-serif" font-size="5.2" font-weight="normal" font-style="italic" fill="#222" text-anchor="start" textLength="30.30" lengthAdjust="spacingAndGlyphs" stroke="#222" stroke-width="0.18">ASCS/SAOS2</text>
</svg></body></html>
